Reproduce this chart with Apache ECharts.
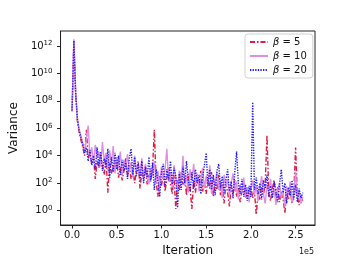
<!DOCTYPE html>
<html>
<head>
<meta charset="utf-8">
<script src="https://cdn.jsdelivr.net/npm/echarts@6/dist/echarts.min.js"></script>
<style>html,body{margin:0;padding:0;background:#fff}#c{width:349px;height:262px}</style>
</head>
<body>
<div id="c"></div>
<script>
// iterations (step 2000)
const iterations = [];
for (let i = 0; i < 130; i++) iterations.push(i * 2000);

const xTicks = [0, 50000, 100000, 150000, 200000, 250000];
const yTicks = [1, 1e2, 1e4, 1e6, 1e8, 1e10, 1e12];

const beta5 = [2e7,2.5e12,2.5e8,3.2e6,5e5,1.3e5,4e4,1e4,7.9e5,6.3e3,
1.6e4,2.5e3,7.9e3,200,4e3,1.3e3,1.3e4,2e3,400,7.9e3,
20,3.2e3,500,2e3,790,5e3,250,1.3e3,160,790,
6.3e3,320,2e3,200,1e3,100,790,4e3,40,630,
250,1.6e3,79,400,160,1e3,7.9e5,130,10,320,
63,500,25,200,1.3e3,100,16,400,1.3,160,
32,630,79,250,13,500,40,1.3,160,20,
320,50,790,25,100,16,250,40,630,10,
130,32,400,13,79,3.2,100,20,2,63,
16,160,10,50,4,32,130,7.9,40,13,
63,7.9,25,0.5,20,6.3,79,13,100,3.2e5,
16,5,40,160,10,50,4,25,7.9,0.63,
20,6.3,32,3.2,16,4e4,10,2.5,13,5];

const beta10 = [1.6e7,3.2e12,6.3e8,5e6,7.9e5,2.5e5,7.9e4,2e4,1.6e5,1.6e6,
7.9e3,4e4,3.2e3,6.3e4,6.3e3,2e4,1.6e3,1e5,4e3,1.6e4,
790,2.5e4,2.5e3,5e4,500,7.9e3,1.3e3,2e4,400,5e3,
1e3,1.3e4,630,3.2e3,250,1e4,790,2e3,320,6.3e3,
160,2.5e3,500,79,1.3e3,320,4e3,100,790,40,
1.6e3,200,1e3,3.2e4,130,630,50,2e3,250,32,
790,100,1e4,63,400,20,1e3,160,2.5e3,79,
500,25,200,1.3e3,40,320,63,2e3,16,250,
79,630,32,160,7.9,400,50,200,13,100,
500,25,130,6.3,79,20,250,10,50,4,
32,160,13,63,5,40,320,16,3.2,79,
25,200,10,40,2.5,32,100,7.9,25,2,
63,13,130,4,20,630,7.9,32,3.2,10];

const beta20 = [2e7,2.5e12,4e8,4e6,6.3e5,2e5,6.3e4,1.6e4,4e4,4e3,
2.5e4,2e3,1e4,1e3,4e4,1.6e3,2e4,790,6.3e3,1.3e3,
3.2e4,250,7.9e3,630,1.6e4,1e3,1e4,400,5e3,790,
3.2e3,200,6.3e3,3.2e4,400,7.9e3,320,2.5e3,160,4e3,
100,1.6e3,250,7.9e3,130,3.2e3,32,1e3,130,10,
630,2.5e3,63,1e3,160,4e3,79,1.3e3,320,1.6,
500,32,1.6e3,100,4e3,160,25,630,40,1e3,
100,400,16,250,2e3,1.6e4,63,1e3,32,400,
13,790,2.5e3,40,320,20,160,1e3,25,130,
7.9,630,2e4,100,16,200,10,79,5,63,
10,7.9e7,32,250,16,100,6.3,160,40,400,
10,63,7.9,130,25,4,79,1e3,20,100,
3.2,50,13,160,6.3,79,4,40,7.9,20];

const seriesNames = ['β5', 'β10', 'β20'];
const legendLabels = {'β5': '5', 'β10': '10', 'β20': '20'};

function pairs(vals) { return vals.map((v, i) => [iterations[i], v]); }

const chart = echarts.init(document.getElementById('c'), null, {renderer: 'canvas'});
const FONT = 'DejaVu Sans';
chart.setOption({
  animation: false,
  backgroundColor: '#fff',
  textStyle: {fontFamily: FONT},
  grid: {left: 43, right: 34, top: 31, bottom: 30, show: true, borderColor: '#222', borderWidth: 1, backgroundColor: 'transparent'},
  legend: {
    show: true,
    left: 245, top: 34,
    orient: 'vertical',
    itemWidth: 18, itemHeight: 10, itemGap: 4,
    padding: [3, 6, 3, 4],
    backgroundColor: '#fff',
    borderColor: '#d0d0d0', borderWidth: 1, borderRadius: 3,
    data: seriesNames,
    itemStyle: {opacity: 0},
    formatter: n => '{i|β}{t| = ' + legendLabels[n] + '}',
    textStyle: {
      fontFamily: FONT, fontSize: 10, color: '#111',
      rich: {
        i: {fontFamily: FONT, fontStyle: 'italic', fontSize: 10, color: '#111'},
        t: {fontFamily: FONT, fontSize: 10, color: '#111'}
      }
    }
  },
  xAxis: {
    type: 'value', min: -12900, max: 271700,
    name: 'Iteration', nameLocation: 'middle', nameGap: 20,
    nameTextStyle: {fontFamily: FONT, fontSize: 12, color: '#111'},
    axisLine: {show: true, onZero: false, lineStyle: {color: '#222', width: 1}},
    axisTick: {show: true, length: 3.5, inside: false, customValues: xTicks, lineStyle: {color: '#222'}},
    axisLabel: {customValues: xTicks, margin: 5, fontFamily: FONT, fontSize: 10, color: '#111',
      formatter: v => (v / 1e5).toFixed(1)},
    splitLine: {show: false}
  },
  yAxis: {
    type: 'log', logBase: 10, min: 0.087, max: 1.26e13,
    name: 'Variance', nameLocation: 'middle', nameGap: 35, nameRotate: 90,
    nameTextStyle: {fontFamily: FONT, fontSize: 12, color: '#111'},
    axisLine: {show: true, onZero: false, lineStyle: {color: '#222', width: 1}},
    axisTick: {show: true, length: 3.5, inside: false, customValues: yTicks, lineStyle: {color: '#222'}},
    axisLabel: {
      customValues: yTicks, margin: 8, fontFamily: FONT, color: '#111',
      formatter: v => '{b|10}{s|' + Math.round(Math.log10(v)) + '}',
      rich: {
        b: {fontFamily: FONT, fontSize: 10, color: '#111'},
        s: {fontFamily: FONT, fontSize: 7, color: '#111', padding: [0, 0, 5, 0]}
      }
    },
    splitLine: {show: false}
  },
  graphic: [{
    type: 'text', right: 35, top: 248,
    style: {text: '1e5', font: '8px "DejaVu Sans"', fill: '#111'}
  }],
  series: [
    {name: 'β5', type: 'line', data: pairs(beta5), symbol: 'none', z: 2,
      lineStyle: {color: '#e31a45', width: 1.4, type: [5, 2, 1.5, 2]}, itemStyle: {color: '#e31a45'}},
    {name: 'β10', type: 'line', data: pairs(beta10), symbol: 'none', z: 3,
      lineStyle: {color: '#e08ee0', width: 1.4, type: 'solid'}, itemStyle: {color: '#e08ee0'}},
    {name: 'β20', type: 'line', data: pairs(beta20), symbol: 'none', z: 4,
      lineStyle: {color: '#1a1aff', width: 1.4, type: [1.3, 1.3]}, itemStyle: {color: '#1a1aff'}}
  ]
});
</script>
</body>
</html>
